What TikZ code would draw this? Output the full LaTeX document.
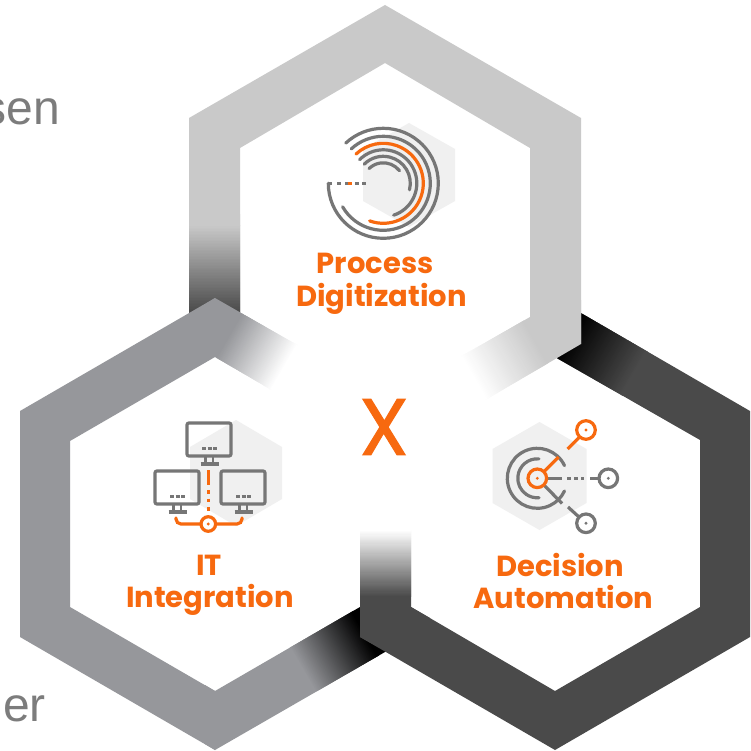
\documentclass[tikz,border=0pt]{standalone}
\usepackage{fontspec}
\setmainfont{Poppins}
\newfontfamily\arialish{Liberation Sans}
\newfontfamily\xfont[FakeBold=1.2]{Poppins}
\definecolor{hexlight}{HTML}{C9C9C9}
\definecolor{hexmid}{HTML}{96979B}
\definecolor{hexdark}{HTML}{4A4A4A}
\definecolor{iconbg}{HTML}{F0F0F0}
\definecolor{icongray}{HTML}{767676}
\definecolor{accent}{HTML}{F7690F}
\definecolor{cuttext}{HTML}{7C7C7C}
\newcommand\gradarm[7]{%
  \begin{scope}\clip #1;
    \begin{scope}[shift={(#2,#3)},rotate=#4]
      \fill[#6] (-600,-600) rectangle (1,600);
      \foreach \i in {0,...,59}{%
        \pgfmathsetmacro\pp{\i*100/59}%
        \fill[#7!\pp!#6] ({#5*\i/60},-600) rectangle ({#5*(\i+2)/60},600);
      }
      \fill[#7] ({#5-0.5},-600) rectangle (600,600);
    \end{scope}
  \end{scope}}
\newcommand\scrn[2]{%
  \draw[gl,rounded corners=2] (#1,#2) rectangle ++(44,33);
  \draw[gl,dash pattern=on 4 off 1.5,line width=2.6,line cap=butt] (#1+15,#2+25.5) -- ++(15,0);
  \draw[gl,line width=2.6,line cap=butt] (#1+18.5,#2+33) -- ++(0,8) (#1+26,#2+33) -- ++(0,8);
  \draw[gl,line cap=butt] (#1+13.5,#2+41) -- ++(18,0);}
\tikzset{
  gl/.style={draw=icongray,line width=3.2,line cap=round},
  ol/.style={draw=accent,line width=3.2,line cap=round},
  bghex/.style={fill=iconbg},
  title/.style={text=accent,font=\fontsize{29}{29}\selectfont\bfseries,inner sep=0pt,anchor=base},
  cut/.style={anchor=base east,inner sep=0,text=cuttext,font=\arialish\fontsize{48}{48}\selectfont},
  flip/.style={yscale=-1}
}
\begin{document}
\begin{tikzpicture}[x=1pt,y=-1pt]
\clip (0,0) rectangle (751,751);
\fill[white] (0,0) rectangle (751,751);
\node[cut] (cuttop) at (60,124.5) {sen};
\node[cut] (cutbot) at (46,721.7) {er};
% left hexagon lower arm (under right hexagon)
\gradarm{(205,685)--(205,744)--(215,750)--(411,637)--(360,607)--(215,691)--cycle}{300}{665}{30}{72}{hexmid}{black}
% right hexagon
\fill[hexdark] (360,637)--(555,750)--(750,637)--(750,411)--(700,440)--(700,607)--(555,691)--(411,607)--cycle;
\gradarm{(555,298)--(750,411)--(750,450)--(700,450)--(700,440)--(555,357)--cycle}{570}{335}{-30}{75}{black}{hexdark}
\gradarm{(360,525)--(411,525)--(411,607)--(430,618)--(420,640)--(380,648)--(360,637)--cycle}{385}{597}{90}{67}{hexdark}{white}
% top hexagon
\fill[hexlight] (581,344)--(581,118)--(385,5)--(189,118)--(189,226)--(240,226)--(240,148)--(385,63)--(530,148)--(530,317)--cycle;
\gradarm{(189,215)--(240,215)--(240,340)--(189,340)--cycle}{215}{225}{-90}{88}{hexlight}{hexdark}
\gradarm{(530,300)--(581,300)--(581,344)--(485,400)--(434,372)--(530,317)--cycle}{535}{340}{210}{72}{hexlight}{white}
% left hexagon
\fill[hexmid] (215,298)--(20,411)--(20,637)--(215,750)--(215,691)--(70,607)--(70,441)--(215,357)--cycle;
\gradarm{(205,304.5)--(215,298)--(325,361)--(325,421)--(215,357)--(205,351)--cycle}{232}{330}{-30}{64}{hexmid}{white}
% centre letter
\node[text=accent,inner sep=0,font=\xfont\fontsize{80}{80}\selectfont] (xmark) at (384,427) {X};
% --- Process icon
\fill[bghex] (409,123)--(455,149)--(455,201)--(409,227)--(363,201)--(363,149)--cycle;
\begin{scope}[shift={(383.3,183.3)},flip]
  \draw[gl] (180:55) arc[start angle=180,end angle=493,radius=55];
  \draw[gl] (210:47) arc[start angle=210,end angle=493,radius=47];
  \draw[ol] (250:40) arc[start angle=250,end angle=493,radius=40];
  \draw[gl] (288:33.5) arc[start angle=288,end angle=495,radius=33.5];
  \draw[gl] (346:27) arc[start angle=346,end angle=495,radius=27];
  \draw[gl] (38:20.5) arc[start angle=38,end angle=134,radius=20.5];
\end{scope}
\draw[gl,line cap=butt] (328,183.3) -- ++(4,0) (337,183.3) -- ++(3.5,0) (345,183.3) -- ++(3.5,0) (355,183.3) -- ++(3.5,0) (362,183.3) -- ++(3.5,0);
\draw[ol,line cap=butt] (348,183.3) -- ++(3.5,0);
% --- IT icon
\fill[bghex] (236,420)--(282,447)--(282,499)--(236,526)--(190,499)--(190,447)--cycle;
\scrn{187}{423}
\scrn{155}{471}
\scrn{221}{471}
\draw[ol,line cap=butt] (208.3,470) -- (208.3,485) (208.3,490) -- ++(0,3.5) (208.3,498.5) -- ++(0,3.5) (208.3,507) -- ++(0,3.5);
\draw[ol] (208.3,524) circle[radius=7.3];
\fill[accent] (208.3,524) circle[radius=1.6];
\draw[ol,rounded corners=5] (176,518) -- (176,524) -- (201,524);
\draw[ol,rounded corners=5] (215.6,524) -- (242,524) -- (242,518);
% --- Decision icon
\fill[bghex] (539.5,422)--(586.5,449)--(586.5,503)--(539.5,530)--(492.5,503)--(492.5,449)--cycle;
\begin{scope}[shift={(537.3,478.3)},flip]
  \draw[gl] (25:30) arc[start angle=25,end angle=335,radius=30];
  \draw[gl] (85:19.5) arc[start angle=85,end angle=275,radius=19.5];
\end{scope}
\draw[gl,line cap=butt] (546.6,478.3) -- (562,478.3) (567,478.3) -- ++(4,0) (574,478.3) -- ++(4,0) (581,478.3) -- ++(3,0) (590,478.3) -- (599,478.3);
\draw[gl] (608.3,478.3) circle[radius=9.3];
\fill[icongray] (608.3,478.3) circle[radius=1.6];
\draw[gl,line cap=butt] (544,485) -- (562,503.5) (568,507) -- (579.5,517.5);
\draw[gl] (586,523.3) circle[radius=9.3];
\fill[icongray] (586,523.3) circle[radius=1.6];
\draw[ol,line cap=butt] (544,471.6) -- (558.5,457) (567.5,449) -- (579.5,437);
\draw[ol] (537.3,478.3) circle[radius=9.3];
\fill[accent] (537.3,478.3) circle[radius=1.6];
\draw[ol] (586,430) circle[radius=9.3];
\fill[accent] (586,430) circle[radius=1.6];
% titles
\node[title] (t1a) at (375,273.5) {Process};
\node[title] (t1b) at (381.5,306) {Digitization};
\node[title] (t2a) at (209,575) {IT};
\node[title] (t2b) at (210,607.5) {Integration};
\node[title] (t3a) at (560,576) {Decision};
\node[title] (t3b) at (563.5,608.5) {Automation};
\end{tikzpicture}
\end{document}
